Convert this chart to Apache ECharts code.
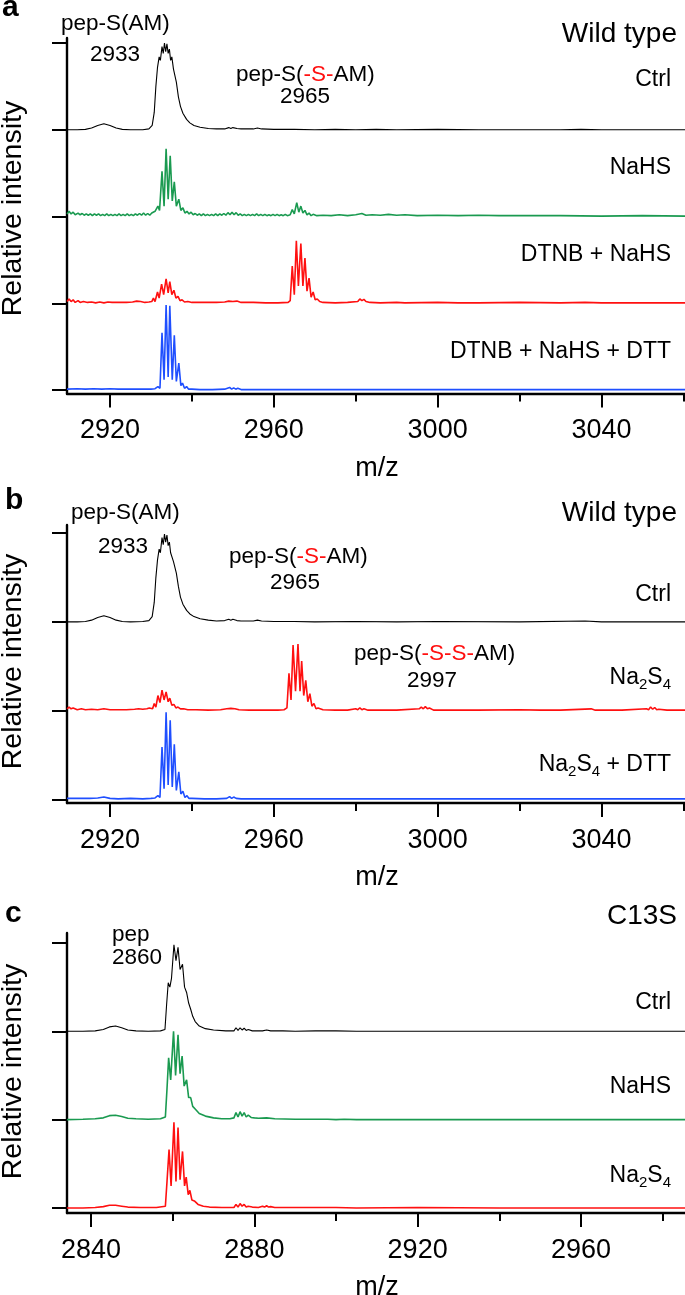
<!DOCTYPE html>
<html><head><meta charset="utf-8">
<script src="https://cdn.jsdelivr.net/npm/echarts@6/dist/echarts.min.js"></script>
<style>html,body{margin:0;padding:0;background:#fff}#c{width:685px;height:1295px}</style>
</head><body><div id="c"></div>
<script>
// ---------- tick values ----------
const xMajorAB = [2920, 2960, 3000, 3040];
const xMinorAB = [2940, 2980, 3020, 3060];
const xMajorC = [2840, 2880, 2920, 2960];
const xMinorC = [2860, 2900, 2940, 2980];
const yTicksA = [0, 1, 2, 3, 4];
const yTicksB = [0, 1, 2, 3];
const yTicksC = [0, 1, 2, 3];

// ---------- panel a: [m/z, relative intensity] ----------
const aCtrl = [[2909.5,0],[2912,0],[2914,0.005],[2915.5,0.02],[2917,0.05],[2918.5,0.07],[2920,0.05],[2921.5,0.02],[2923,0.005],[2925,0],[2928,0],[2929.5,0.01],[2930.3,0.05],[2930.8,0.2],[2931.2,0.5],[2931.6,0.72],[2932.0,0.84],[2932.3,0.8],[2932.7,0.96],[2933.0,0.88],[2933.3,1.0],[2933.6,0.9],[2933.9,0.99],[2934.2,0.88],[2934.5,0.93],[2934.8,0.8],[2935.1,0.84],[2935.5,0.7],[2935.8,0.72],[2936.2,0.55],[2936.7,0.38],[2937.2,0.27],[2937.8,0.19],[2938.7,0.12],[2939.5,0.08],[2940.5,0.05],[2942,0.03],[2944,0.015],[2946,0.01],[2948,0.01],[2949,0.025],[2949.5,0.015],[2950,0.025],[2951,0.015],[2952,0.01],[2955,0.01],[2956,0.02],[2957,0.01],[2960,0.005],[2965,0.005],[2970,0],[2975,0.005],[2980,0],[2985,0.005],[2990,0],[3000,0.005],[3010,0],[3030,0],[3035,0.005],[3040,0],[3060.4,0]];
const aNaHS = [[2909.5,0.03],[2910,0.06],[2910.5,0.03],[2911,0.05],[2911.5,0.02],[2912.2,0.04],[2912.7,0.02],[2913.2,0.035],[2913.7,0.015],[2914.2,0.03],[2914.7,0.015],[2915.2,0.03],[2915.7,0.01],[2916.2,0.03],[2916.7,0.015],[2917.2,0.03],[2917.7,0.01],[2918.2,0.025],[2918.7,0.01],[2919.2,0.03],[2919.7,0.01],[2920.2,0.025],[2920.7,0.01],[2921.2,0.025],[2921.7,0.01],[2922.2,0.03],[2922.7,0.01],[2923.2,0.025],[2923.7,0.01],[2924.2,0.03],[2924.7,0.01],[2925.2,0.025],[2925.7,0.01],[2926.2,0.03],[2926.7,0.015],[2927.2,0.035],[2927.7,0.015],[2928.2,0.04],[2928.7,0.015],[2929.2,0.035],[2929.7,0.015],[2930.2,0.04],[2930.6,0.03],[2931.0,0.06],[2931.7,0.12],[2932.1,0.07],[2932.7,0.52],[2933.2,0.12],[2933.7,0.78],[2934.2,0.2],[2934.7,0.7],[2935.2,0.18],[2935.7,0.4],[2936.2,0.12],[2936.8,0.2],[2937.3,0.07],[2937.8,0.1],[2938.3,0.04],[2938.8,0.06],[2939.3,0.03],[2939.8,0.05],[2940.3,0.02],[2940.8,0.035],[2941.3,0.015],[2941.8,0.03],[2942.3,0.01],[2942.8,0.03],[2943.3,0.01],[2943.8,0.025],[2944.3,0.01],[2944.8,0.025],[2945.3,0.01],[2945.8,0.03],[2946.3,0.01],[2946.8,0.03],[2947.3,0.015],[2947.8,0.035],[2948.3,0.015],[2948.8,0.045],[2949.3,0.02],[2949.8,0.05],[2950.3,0.02],[2950.8,0.045],[2951.3,0.015],[2951.8,0.03],[2952.3,0.01],[2952.8,0.025],[2953.3,0.01],[2953.8,0.025],[2954.3,0.01],[2954.8,0.025],[2955.3,0.01],[2955.8,0.03],[2956.3,0.01],[2956.8,0.025],[2957.3,0.01],[2957.8,0.025],[2958.3,0.01],[2958.8,0.02],[2959.3,0.01],[2959.8,0.025],[2960.3,0.01],[2960.8,0.025],[2961.3,0.01],[2961.8,0.02],[2962.3,0.01],[2962.8,0.025],[2963.3,0.01],[2963.7,0.03],[2964.0,0.02],[2964.5,0.08],[2965.0,0.03],[2965.6,0.16],[2966.1,0.05],[2966.6,0.12],[2967.1,0.04],[2967.6,0.07],[2968.1,0.02],[2968.6,0.04],[2969.1,0.01],[2969.6,0.025],[2970.5,0.01],[2972,0.015],[2974,0.01],[2976,0.02],[2978,0.01],[2980,0.02],[2981.5,0.035],[2982.5,0.015],[2984,0.02],[2986,0.015],[2988,0.025],[2990,0.015],[2992,0.02],[2995,0.01],[3000,0.015],[3005,0.01],[3010,0.015],[3015,0.01],[3020,0.01],[3030,0.01],[3040,0.005],[3050,0.01],[3060.4,0.005]];
const aDtnbNaHS = [[2909.5,0.02],[2910,0.05],[2910.5,0.02],[2911,0.04],[2911.5,0.01],[2912.2,0.03],[2912.7,0.01],[2913.5,0.02],[2914.5,0.01],[2915.5,0.015],[2916.5,0.005],[2917.5,0.015],[2918.5,0.005],[2919.5,0.015],[2920.5,0.01],[2921.5,0.01],[2922.5,0.01],[2924,0.01],[2925.5,0.015],[2926.5,0.025],[2927.5,0.02],[2928.5,0.01],[2929.5,0.015],[2930.2,0.02],[2930.6,0.06],[2931.0,0.02],[2931.6,0.13],[2932.0,0.06],[2932.6,0.22],[2933.1,0.1],[2933.7,0.28],[2934.2,0.12],[2934.6,0.25],[2935.1,0.1],[2935.6,0.15],[2936.1,0.06],[2936.6,0.08],[2937.1,0.03],[2937.6,0.04],[2938.2,0.015],[2939,0.02],[2940,0.01],[2942,0.01],[2944,0.01],[2946,0.01],[2948,0.015],[2949,0.025],[2950,0.02],[2951,0.025],[2952,0.01],[2955,0.01],[2958,0.005],[2961,0.005],[2963.5,0.01],[2964.0,0.03],[2964.5,0.43],[2965.0,0.1],[2965.5,0.72],[2966.0,0.2],[2966.6,0.69],[2967.1,0.2],[2967.6,0.52],[2968.1,0.14],[2968.6,0.29],[2969.1,0.07],[2969.6,0.13],[2970.1,0.04],[2970.6,0.05],[2971.2,0.02],[2972,0.01],[2975,0.005],[2978,0.01],[2980.5,0.02],[2981,0.05],[2981.5,0.03],[2982,0.045],[2982.5,0.02],[2983.5,0.01],[2986,0.005],[2990,0.01],[2992,0.005],[3000,0.01],[3005,0.005],[3010,0.005],[3020,0.01],[3030,0.005],[3036,0.01],[3040,0.005],[3050,0.005],[3060.4,0.005]];
const aDtnbNaHSDtt = [[2909.5,0.01],[2912,0.015],[2914,0.01],[2916,0.015],[2918,0.01],[2920,0.015],[2922,0.01],[2924,0.01],[2926,0.01],[2928,0.01],[2930,0.01],[2931,0.015],[2931.7,0.04],[2932.2,0.02],[2932.7,0.66],[2933.2,0.12],[2933.7,0.98],[2934.2,0.15],[2934.6,0.97],[2935.2,0.12],[2935.7,0.63],[2936.2,0.1],[2936.8,0.31],[2937.3,0.05],[2937.7,0.08],[2938.2,0.02],[2938.7,0.04],[2939.2,0.01],[2940,0.01],[2942,0.005],[2945,0.005],[2948,0.01],[2949.2,0.03],[2949.7,0.01],[2950.2,0.025],[2950.7,0.01],[2951.2,0.02],[2952,0.005],[2955,0.005],[2960,0.005],[2970,0.005],[2980,0.005],[3000,0.005],[3020,0.005],[3040,0.005],[3060.4,0.005]];

// ---------- panel b ----------
const bCtrl = [[2909.5,0],[2912,0],[2914,0.005],[2915.5,0.02],[2917,0.05],[2918.5,0.07],[2920,0.05],[2921.5,0.02],[2923,0.005],[2925,0],[2928,0.005],[2929.5,0.015],[2930.3,0.06],[2930.8,0.22],[2931.2,0.5],[2931.6,0.7],[2932.0,0.82],[2932.3,0.78],[2932.7,0.95],[2933.0,0.87],[2933.3,0.99],[2933.6,0.9],[2933.9,0.98],[2934.2,0.86],[2934.5,0.9],[2934.8,0.78],[2935.1,0.8],[2935.5,0.68],[2935.8,0.7],[2936.2,0.55],[2936.7,0.4],[2937.2,0.28],[2937.8,0.2],[2938.7,0.13],[2939.5,0.09],[2940.5,0.06],[2942,0.035],[2944,0.02],[2946,0.01],[2948,0.015],[2949,0.03],[2949.5,0.02],[2950,0.03],[2951,0.015],[2952,0.01],[2955,0.01],[2956,0.02],[2957,0.01],[2960,0.005],[2965,0.005],[2970,0],[2980,0.005],[2990,0],[3000,0.005],[3020,0],[3036,0.01],[3040,0],[3060.4,0]];
const bNa2S4 = [[2909.5,0.02],[2910,0.04],[2910.5,0.02],[2911,0.03],[2912,0.01],[2913,0.02],[2914,0.01],[2915.5,0.015],[2917,0.01],[2918.5,0.02],[2920,0.01],[2922,0.01],[2924,0.01],[2926,0.015],[2927,0.02],[2928,0.015],[2929,0.02],[2929.6,0.03],[2930.0,0.05],[2930.4,0.02],[2930.8,0.08],[2931.2,0.04],[2931.7,0.17],[2932.2,0.09],[2932.7,0.23],[2933.2,0.12],[2933.7,0.21],[2934.2,0.1],[2934.6,0.14],[2935.1,0.06],[2935.6,0.07],[2936.1,0.03],[2936.6,0.04],[2937.2,0.02],[2938,0.02],[2939,0.01],[2941,0.01],[2944,0.005],[2947,0.01],[2948.5,0.02],[2949.5,0.025],[2950.5,0.02],[2951.5,0.01],[2954,0.005],[2958,0.005],[2961,0.005],[2962.5,0.01],[2963.2,0.03],[2963.7,0.42],[2964.2,0.12],[2964.7,0.74],[2965.3,0.22],[2965.9,0.75],[2966.4,0.22],[2966.8,0.56],[2967.3,0.17],[2967.8,0.34],[2968.3,0.1],[2968.8,0.19],[2969.3,0.05],[2969.8,0.08],[2970.3,0.02],[2970.8,0.03],[2972,0.01],[2975,0.005],[2978,0.005],[2980,0.02],[2980.5,0.01],[2981,0.03],[2981.5,0.01],[2982,0.02],[2983,0.005],[2986,0.005],[2990,0.005],[2995.5,0.02],[2996,0.04],[2996.5,0.02],[2997,0.045],[2997.5,0.02],[2998,0.03],[2999,0.005],[3005,0.005],[3010,0.005],[3020,0.01],[3025,0.005],[3030,0.005],[3037.5,0.02],[3038.5,0.005],[3045,0.005],[3051,0.02],[3051.5,0.01],[3052,0.04],[3052.5,0.015],[3053,0.035],[3053.5,0.01],[3054,0.015],[3056,0.005],[3060.4,0.005]];
const bNa2S4Dtt = [[2909.5,0.01],[2912,0.01],[2915,0.01],[2917,0.015],[2918.5,0.025],[2920,0.01],[2922,0.005],[2925,0.01],[2928,0.005],[2930,0.01],[2931,0.015],[2931.7,0.04],[2932.2,0.02],[2932.7,0.59],[2933.2,0.12],[2933.7,0.98],[2934.2,0.16],[2934.7,0.89],[2935.2,0.14],[2935.7,0.62],[2936.2,0.1],[2936.8,0.31],[2937.3,0.06],[2937.8,0.09],[2938.3,0.02],[2938.8,0.04],[2939.3,0.01],[2940,0.01],[2943,0.005],[2946,0.005],[2948.5,0.01],[2949.2,0.03],[2949.7,0.01],[2950.2,0.025],[2950.8,0.01],[2952,0.005],[2960,0.005],[2980,0.005],[3000,0.005],[3020,0.005],[3040,0.005],[3060.4,0.005]];

// ---------- panel c ----------
const cCtrl = [[2834.1,0],[2838,0],[2841,0.005],[2843,0.02],[2844.5,0.05],[2846,0.06],[2847.5,0.04],[2849,0.015],[2851,0.005],[2854,0],[2857,0.005],[2858.1,0.02],[2858.5,0.3],[2858.9,0.55],[2859.3,0.5],[2859.7,0.6],[2860.3,0.98],[2860.8,0.8],[2861.3,0.95],[2861.8,0.7],[2862.4,0.76],[2862.9,0.5],[2863.4,0.44],[2863.9,0.32],[2864.4,0.25],[2864.9,0.17],[2865.5,0.11],[2866.5,0.06],[2868,0.03],[2870,0.015],[2873,0.005],[2875,0.005],[2875.5,0.04],[2876,0.01],[2876.5,0.04],[2877,0.015],[2877.5,0.035],[2878,0.01],[2878.5,0.02],[2879.5,0.005],[2882,0.005],[2883,0.015],[2884,0.005],[2887,0.005],[2890,0],[2895,0.005],[2900,0.005],[2905,0],[2920,0],[2940,0],[2960,0],[2985.5,0]];
const cNaHS = [[2834.1,0],[2838,0.005],[2841,0.01],[2843,0.02],[2844.5,0.045],[2846,0.05],[2847.5,0.035],[2849,0.015],[2851,0.01],[2854,0.005],[2857,0.01],[2858.2,0.03],[2858.6,0.35],[2859.0,0.7],[2859.5,0.45],[2860.2,1.0],[2860.7,0.5],[2861.3,0.96],[2861.8,0.52],[2862.3,0.72],[2862.8,0.38],[2863.4,0.45],[2863.9,0.25],[2864.4,0.25],[2864.9,0.15],[2865.5,0.12],[2866.5,0.07],[2868,0.04],[2870,0.02],[2872,0.01],[2874,0.01],[2875,0.02],[2875.5,0.08],[2876,0.03],[2876.5,0.09],[2877,0.04],[2877.5,0.08],[2878,0.03],[2878.5,0.05],[2879.2,0.025],[2880,0.02],[2881,0.015],[2883,0.02],[2885,0.01],[2890,0.005],[2895,0.005],[2898,0.005],[2900,0],[2902,0.005],[2905,0],[2920,0],[2940,0],[2960,0],[2985.5,0]];
const cNa2S4 = [[2834.1,0],[2838,0],[2841,0.005],[2843,0.015],[2844.5,0.03],[2846,0.03],[2847.5,0.02],[2849,0.01],[2852,0.005],[2856,0.005],[2858.2,0.02],[2858.6,0.3],[2859.1,0.66],[2859.6,0.25],[2860.3,0.97],[2860.8,0.3],[2861.3,0.91],[2861.8,0.32],[2862.4,0.64],[2862.9,0.25],[2863.3,0.35],[2863.8,0.15],[2864.2,0.2],[2864.7,0.09],[2865.3,0.08],[2866.2,0.04],[2867.5,0.02],[2869,0.01],[2872,0.005],[2875,0.005],[2875.5,0.04],[2876,0.01],[2876.5,0.05],[2877,0.02],[2877.5,0.04],[2878,0.01],[2878.5,0.02],[2879.5,0.01],[2881,0.005],[2882,0.02],[2882.5,0.01],[2883,0.025],[2883.5,0.01],[2884,0.015],[2885,0.005],[2890,0.005],[2900,0.005],[2905,0],[2920,0.005],[2940,0],[2960,0],[2985.5,0]];

// ---------- text ----------
const labelsA = ['Ctrl', 'NaHS', 'DTNB + NaHS', 'DTNB + NaHS + DTT'];
const labelsB = ['Ctrl', '{n|Na}{s|2}{n|S}{s|4}', '{n|Na}{s|2}{n|S}{s|4}{n| + DTT}'];
const labelsC = ['Ctrl', 'NaHS', '{n|Na}{s|2}{n|S}{s|4}'];

const BLACK = '#000000', GREEN = '#1a9a50', RED = '#ff1010', BLUE = '#1f4fff';
const FF = '"Liberation Sans", Arial, Helvetica, sans-serif';

const chart = echarts.init(document.getElementById('c'), null, {renderer: 'canvas'});

function trace(data, offset, color, width, grid) {
  return {
    type: 'line', xAxisIndex: grid * 2, yAxisIndex: grid,
    data: data.map(p => [p[0], p[1] + offset]),
    showSymbol: false, symbol: 'none', silent: true, animation: false,
    lineStyle: {color: color, width: width}, z: 3
  };
}
function xAxes(grid, min, max, major, minor) {
  return [{
    type: 'value', gridIndex: grid, position: 'bottom', min: min, max: max,
    axisLine: {show: true, onZero: false, lineStyle: {color: '#000', width: 2.4}},
    axisTick: {show: true, customValues: major, length: 14, lineStyle: {color: '#000', width: 2}},
    axisLabel: {show: true, customValues: major, color: '#000', fontSize: 27, fontFamily: FF, margin: 24, lineHeight: 27,
      formatter: function (v) { return String(Math.round(v)); }},
    splitLine: {show: false}
  }, {
    type: 'value', gridIndex: grid, position: 'bottom', min: min, max: max,
    axisLine: {show: false, onZero: false},
    axisTick: {show: true, customValues: minor, length: 8, lineStyle: {color: '#000', width: 2}},
    axisLabel: {show: false}, splitLine: {show: false}
  }];
}
function yAxis(grid, min, max, ticks) {
  return {
    type: 'value', gridIndex: grid, min: min, max: max,
    axisLine: {show: true, onZero: false, lineStyle: {color: '#000', width: 2.4}},
    axisTick: {show: true, customValues: ticks, length: 15, lineStyle: {color: '#000', width: 2}},
    axisLabel: {show: false}, splitLine: {show: false}
  };
}

const richSub = {
  n: {fontSize: 23, fontFamily: FF, lineHeight: 23, verticalAlign: 'middle', fill: '#000'},
  s: {fontSize: 15, fontFamily: FF, height: 10, verticalAlign: 'bottom', fill: '#000'},
  r: {fill: RED, fontSize: 22.5, fontFamily: FF}
};
function txt(text, x, y, size, align, extra) {
  extra = extra || {};
  return {
    type: 'text', x: x, y: y, rotation: extra.rotation || 0, silent: true, z: 10,
    style: {
      text: text, x: 0, y: 0,
      font: (extra.bold ? 'bold ' : '') + size + 'px ' + FF,
      fill: '#000', align: align, textAlign: align,
      verticalAlign: 'middle', textVerticalAlign: 'middle',
      rich: richSub
    }
  };
}

const graphics = [
  // panel a
  txt('a', 2, 8, 30, 'left', {bold: true}),
  txt('pep-S(AM)', 61, 24, 22.5, 'left'),
  txt('2933', 115, 55, 22.5, 'center'),
  txt('pep-S({r|-S-}AM)', 236, 74.5, 22.5, 'left'),
  txt('2965', 305, 97, 22.5, 'center'),
  txt('Wild type', 677, 34, 28, 'right'),
  txt(labelsA[0], 671, 80, 23, 'right'),
  txt(labelsA[1], 671, 168, 23, 'right'),
  txt(labelsA[2], 671, 255, 23, 'right'),
  txt(labelsA[3], 671, 352, 23, 'right'),
  txt('Relative intensity', 13, 208.5, 28.5, 'center', {rotation: Math.PI / 2}),
  txt('m/z', 377, 469, 27, 'center'),
  // panel b
  txt('b', 5, 501, 30, 'left', {bold: true}),
  txt('pep-S(AM)', 71, 513, 22.5, 'left'),
  txt('2933', 123, 547, 22.5, 'center'),
  txt('pep-S({r|-S-}AM)', 229, 557, 22.5, 'left'),
  txt('2965', 295, 583, 22.5, 'center'),
  txt('Wild type', 677, 513, 28, 'right'),
  txt(labelsB[0], 671, 595, 23, 'right'),
  txt('pep-S({r|-S-S-}AM)', 354, 654, 22.5, 'left'),
  txt('2997', 432, 681, 22.5, 'center'),
  txt(labelsB[1], 671, 678, 23, 'right'),
  txt(labelsB[2], 671, 765, 23, 'right'),
  txt('Relative intensity', 13, 661.5, 28.5, 'center', {rotation: Math.PI / 2}),
  txt('m/z', 377, 878, 27, 'center'),
  // panel c
  txt('c', 5, 914, 30, 'left', {bold: true}),
  txt('C13S', 677, 916, 28, 'right'),
  txt('pep', 112, 935, 22.5, 'left'),
  txt('2860', 112, 958, 22.5, 'left'),
  txt(labelsC[0], 671, 1003, 23, 'right'),
  txt(labelsC[1], 671, 1087, 23, 'right'),
  txt(labelsC[2], 671, 1176, 23, 'right'),
  txt('Relative intensity', 13, 1071.5, 28.5, 'center', {rotation: Math.PI / 2}),
  txt('m/z', 377, 1288, 27, 'center')
];

const option = {
  animation: false,
  backgroundColor: '#ffffff',
  grid: [
    {left: 67, right: 0, top: 38, height: 355.5, containLabel: false},
    {left: 67, right: 0, top: 525, height: 278, containLabel: false},
    {left: 67, right: 0, top: 933, height: 280, containLabel: false}
  ],
  xAxis: [].concat(
    xAxes(0, 2909.5, 3060.4, xMajorAB, xMinorAB),
    xAxes(1, 2909.5, 3060.4, xMajorAB, xMinorAB),
    xAxes(2, 2834.1, 2985.5, xMajorC, xMinorC)
  ),
  yAxis: [
    yAxis(0, -0.04, 4.058, yTicksA),
    yAxis(1, -0.042, 3.093, yTicksB),
    yAxis(2, -0.057, 3.113, yTicksC)
  ],
  series: [
    trace(aCtrl, 3, BLACK, 1.1, 0),
    trace(aNaHS, 2, GREEN, 1.6, 0),
    trace(aDtnbNaHS, 1, RED, 1.6, 0),
    trace(aDtnbNaHSDtt, 0, BLUE, 1.6, 0),
    trace(bCtrl, 2, BLACK, 1.1, 1),
    trace(bNa2S4, 1, RED, 1.6, 1),
    trace(bNa2S4Dtt, 0, BLUE, 1.6, 1),
    trace(cCtrl, 2, BLACK, 1.1, 2),
    trace(cNaHS, 1, GREEN, 1.6, 2),
    trace(cNa2S4, 0, RED, 1.6, 2)
  ],
  graphic: graphics
};
chart.setOption(option);
</script></body></html>
